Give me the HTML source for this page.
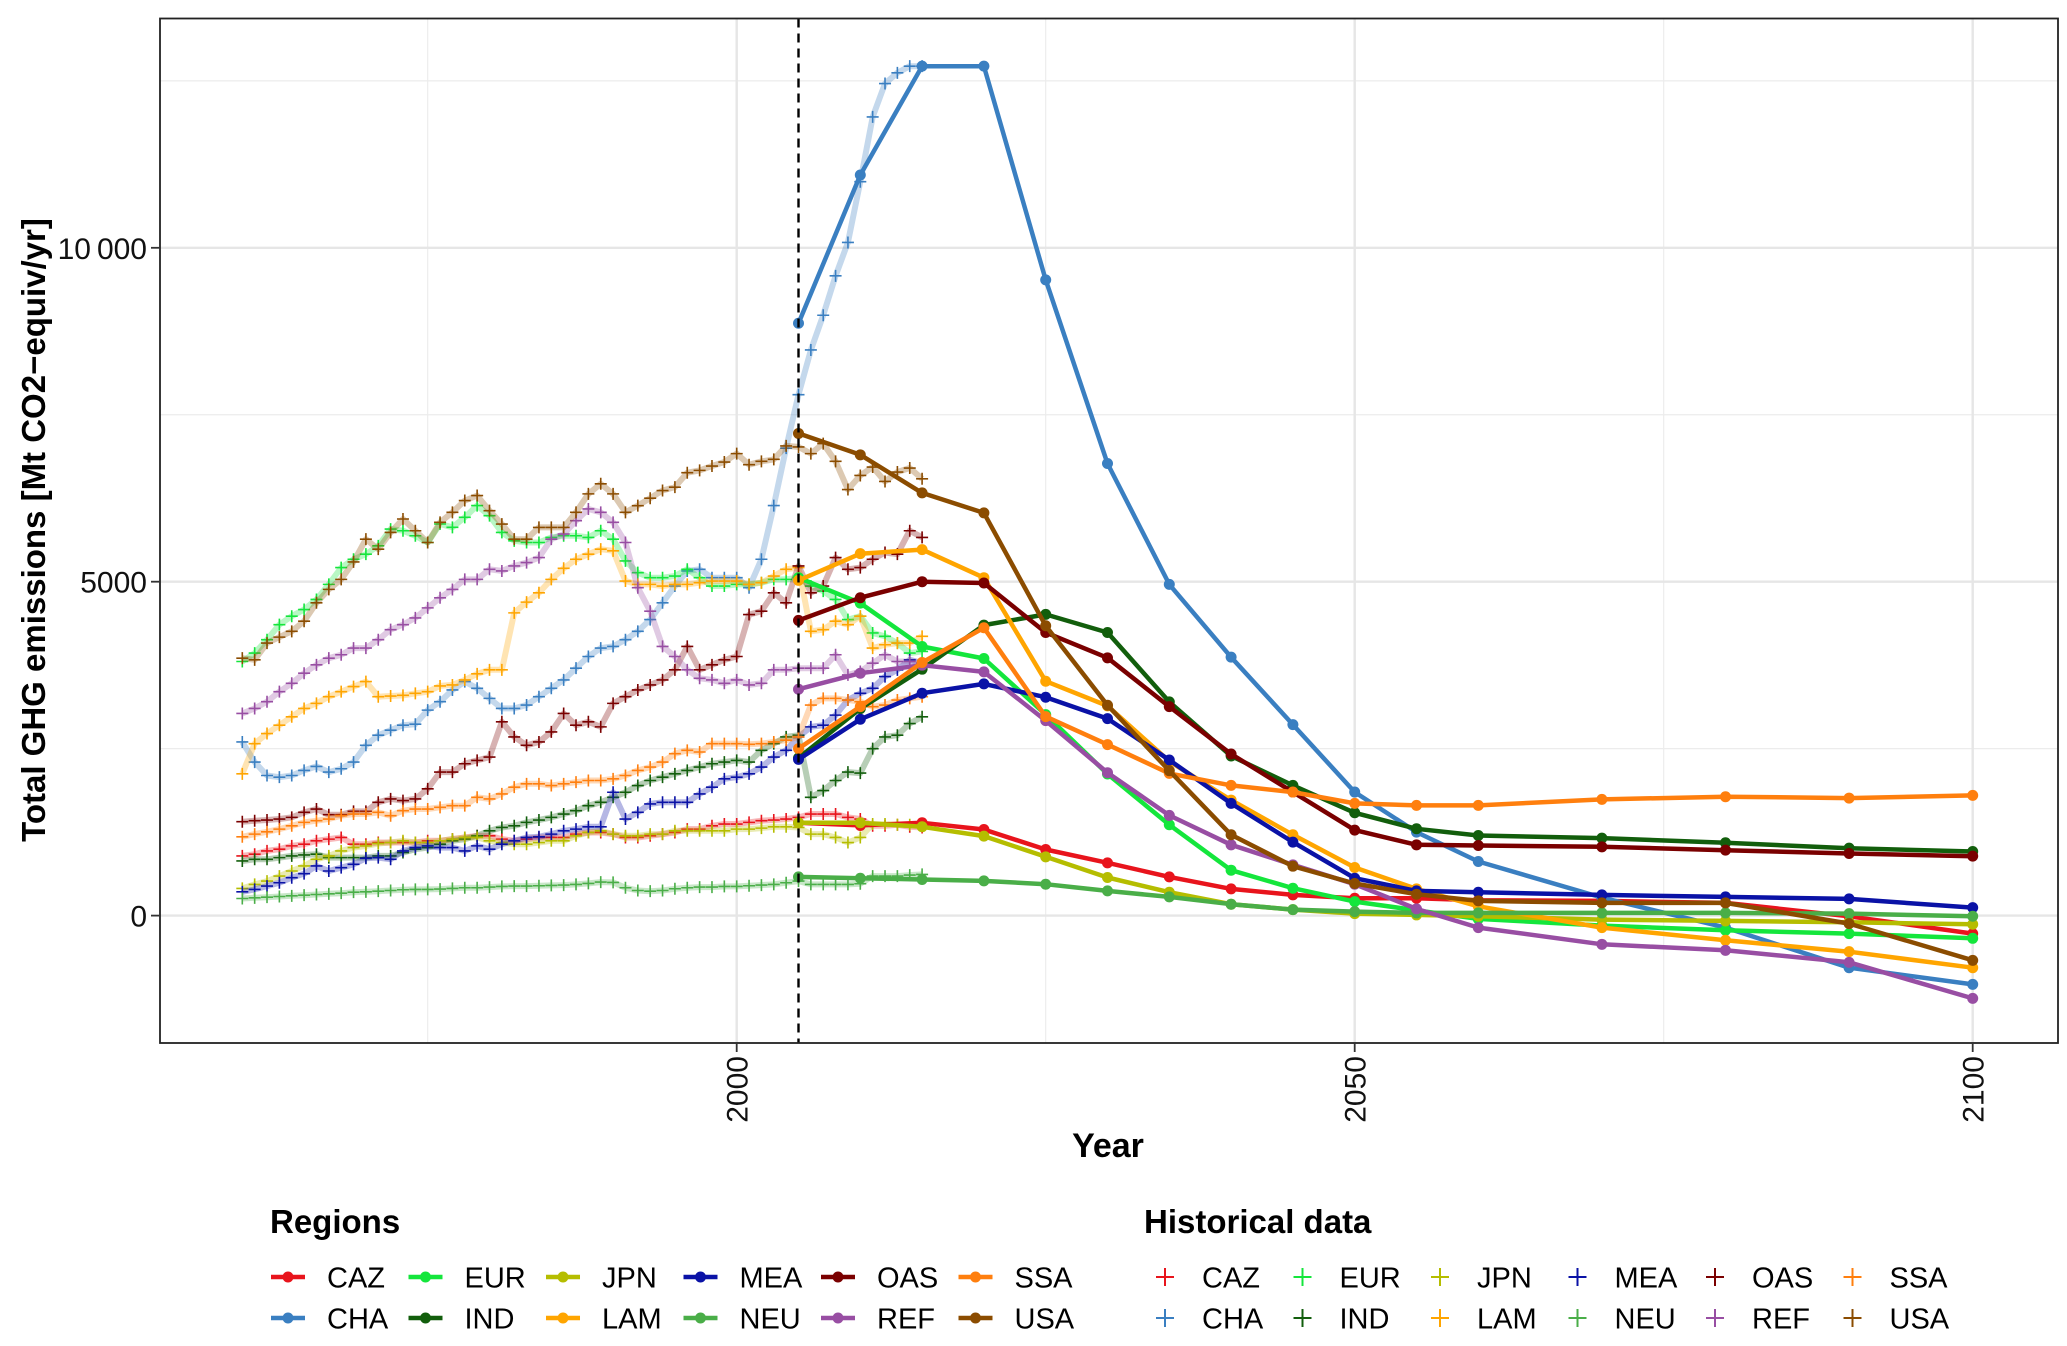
<!DOCTYPE html>
<html><head><meta charset="utf-8"><style>
html,body{margin:0;padding:0;background:#fff;}
svg{display:block;font-family:"Liberation Sans",Arial,sans-serif;}
</style></head><body>
<svg id="chart" width="2067" height="1346" viewBox="0 0 2067 1346" xmlns="http://www.w3.org/2000/svg">
<rect x="0" y="0" width="2067" height="1346" fill="#fff"/>
<g id="grid"></g>
<g id="hist"></g>
<g id="model"></g>
<g id="axes"></g>
<g id="legend"></g>
</svg>
<script>
const regions = ["CAZ","CHA","EUR","IND","JPN","LAM","MEA","NEU","OAS","REF","SSA","USA"];
const colors = ["#e8141c","#3a7fc1","#14e63c","#125e0c","#b5bd00","#ffa500","#0a12a6","#4aae48","#7a0000","#984ea3","#ff7f0e","#8b4c00"];
const modelYears = [2005,2010,2015,2020,2025,2030,2035,2040,2045,2050,2055,2060,2070,2080,2090,2100];
const mCAZ = [1390,1350,1390,1290,990,790,580,400,310,260,260,230,220,190,-10,-270];
const mCHA = [8870,11090,12720,12720,9520,6770,4960,3870,2860,1850,1250,810,270,-180,-780,-1030];
const mEUR = [5060,4680,4030,3850,3010,2120,1360,680,410,210,80,-50,-150,-220,-270,-340];
const mIND = [2360,3100,3690,4350,4510,4240,3200,2390,1950,1540,1300,1200,1160,1090,1010,960];
const mJPN = [1390,1390,1330,1190,880,570,350,170,90,30,10,-10,-60,-80,-100,-130];
const mLAM = [5020,5420,5480,5060,3510,3140,2310,1730,1210,720,400,140,-180,-370,-540,-780];
const mMEA = [2340,2940,3330,3470,3270,2950,2330,1680,1100,560,370,350,310,280,250,120];
const mNEU = [580,560,540,520,470,370,280,170,90,60,40,40,40,40,30,-10];
const mOAS = [4420,4760,5000,4980,4240,3860,3130,2420,1850,1280,1060,1050,1030,980,930,890];
const mREF = [3390,3630,3750,3650,2920,2140,1500,1060,760,470,100,-180,-430,-520,-700,-1240];
const mSSA = [2500,3130,3790,4310,2980,2560,2130,1950,1850,1680,1650,1650,1740,1780,1760,1800];
const mUSA = [7220,6900,6330,6030,4340,3150,2170,1210,740,480,320,220,190,190,-120,-670];
const histStart = 1960;
const hCAZ = [894,919,969,994,1044,1069,1120,1145,1170,1069,1069,1094,1094,1094,1094,1120,1120,1145,1170,1195,1195,1145,1120,1145,1170,1170,1170,1220,1245,1245,1220,1170,1170,1195,1220,1245,1295,1295,1345,1371,1371,1396,1421,1431,1446,1471,1521,1521,1521,1471,1446,1345,1345,1360,1330,1320];
const hCHA = [2600,2299,2098,2073,2098,2174,2234,2149,2199,2299,2550,2701,2776,2851,2866,3077,3203,3379,3504,3404,3253,3102,3102,3153,3278,3404,3529,3705,3880,4006,4031,4131,4257,4433,4684,4935,5161,5186,5060,5060,5060,4910,5336,6140,7000,7800,8470,8990,9580,10080,10990,11960,12460,12620,12720,12720];
const hEUR = [3805,3931,4131,4357,4483,4583,4734,4960,5211,5336,5412,5537,5788,5763,5688,5587,5864,5814,5964,6140,5989,5738,5612,5587,5587,5663,5688,5688,5663,5763,5637,5311,5135,5060,5060,5085,5186,5060,4935,4935,4960,4960,4985,5035,5035,5060,4935,4859,4734,4433,4483,4232,4182,4081,3931,3956];
const hIND = [818,843,843,868,894,909,919,868,868,868,868,894,894,944,994,1019,1069,1120,1145,1195,1270,1320,1345,1396,1431,1471,1521,1571,1646,1697,1772,1847,1948,2023,2073,2123,2174,2224,2274,2299,2324,2299,2475,2575,2676,2701,1772,1872,2023,2149,2134,2500,2676,2701,2876,2977];
const hJPN = [407,467,517,592,668,743,843,894,969,1019,1044,1079,1094,1120,1094,1094,1120,1145,1170,1170,1120,1094,1069,1069,1094,1120,1120,1195,1245,1270,1220,1195,1195,1220,1220,1270,1270,1270,1270,1270,1295,1295,1310,1330,1330,1320,1220,1220,1170,1094,1170,1371,1371,1360,1360,1360];
const hLAM = [2123,2575,2726,2851,2977,3102,3178,3278,3353,3429,3504,3278,3288,3298,3328,3353,3439,3454,3529,3620,3680,3680,4533,4694,4834,5035,5201,5336,5412,5487,5462,5010,4960,4960,4935,4960,4960,4985,5010,5010,5010,4960,4985,5085,5186,5211,4257,4282,4408,4357,4483,4006,4056,4081,4081,4182];
const hMEA = [356,392,442,492,567,628,743,668,718,768,858,868,843,969,1019,1044,1019,1019,969,1044,994,1069,1120,1170,1180,1220,1270,1295,1330,1330,1847,1446,1546,1672,1697,1697,1697,1822,1923,2048,2073,2123,2224,2374,2475,2676,2826,2851,3002,3228,3328,3404,3579,3680,3830,3780];
const hNEU = [256,266,276,286,296,306,316,326,336,351,356,366,376,387,392,392,397,407,417,417,427,437,442,442,447,452,457,467,482,502,497,417,376,366,376,402,417,427,427,437,437,447,457,467,492,517,467,467,467,467,477,592,592,592,607,617];
const hOAS = [1406,1421,1431,1446,1471,1546,1596,1511,1511,1561,1561,1697,1747,1722,1747,1898,2149,2149,2274,2324,2374,2902,2676,2550,2600,2751,3027,2851,2902,2826,3178,3278,3379,3454,3529,3680,4031,3680,3755,3830,3880,4508,4558,4834,4684,5236,4834,4935,5361,5186,5211,5336,5437,5412,5763,5663];
const hREF = [3027,3102,3203,3353,3479,3630,3755,3855,3906,4006,4006,4131,4282,4357,4458,4608,4759,4884,5035,5035,5186,5161,5236,5286,5361,5637,5713,5914,6089,6039,5889,5587,4910,4558,4031,3880,3680,3554,3529,3479,3529,3454,3479,3680,3680,3705,3705,3705,3906,3604,3655,3780,3906,3805,3805,3780];
const hSSA = [1180,1220,1255,1295,1345,1396,1421,1446,1496,1521,1521,1546,1496,1571,1596,1596,1621,1646,1646,1772,1747,1822,1923,1973,1973,1948,1973,1998,2023,2023,2048,2098,2174,2224,2299,2425,2475,2450,2575,2575,2575,2565,2575,2600,2626,2676,3153,3253,3253,3228,3203,3128,3153,3228,3253,3278];
const hUSA = [3855,3830,4081,4170,4257,4408,4684,4885,5035,5296,5637,5487,5738,5939,5763,5587,5889,6039,6215,6290,6064,5863,5637,5637,5813,5813,5813,6039,6315,6466,6315,6039,6139,6250,6365,6416,6632,6667,6732,6792,6918,6752,6802,6832,7033,7018,6918,7068,6802,6380,6591,6717,6501,6642,6702,6541];
const xTicks = [2000,2050,2100];
const xMinor = [1975,2025,2075];
const yTicks = [0,5000,10000];
const yTickLabels = ["0","5000","10\u2009000"];
const yMinor = [2500,7500,12500];

const modelData = [mCAZ,mCHA,mEUR,mIND,mJPN,mLAM,mMEA,mNEU,mOAS,mREF,mSSA,mUSA];
const histData = [hCAZ,hCHA,hEUR,hIND,hJPN,hLAM,hMEA,hNEU,hOAS,hREF,hSSA,hUSA];

const NS = "http://www.w3.org/2000/svg";
const PL = 160, PR = 2058, PT = 18.5, PB = 1043;
function x(yr){ return 736.7 + (yr - 2000) * 12.36; }
function y(v){ return 915.6 - v * 0.06678; }
function mk(tag, attrs, parent){
  const e = document.createElementNS(NS, tag);
  for (const k in attrs) e.setAttribute(k, attrs[k]);
  parent.appendChild(e);
  return e;
}
const grid = document.getElementById('grid');
const hist = document.getElementById('hist');
const model = document.getElementById('model');
const axes = document.getElementById('axes');
const legend = document.getElementById('legend');

xMinor.forEach(t => {
  const l = mk('line', {x1:x(t), x2:x(t), y1:PT, y2:PB, stroke:'#ececec', 'stroke-width':1.2}, grid);
  
  
});
yMinor.forEach(t => {
  const l = mk('line', {x1:PL, x2:PR, y1:y(t), y2:y(t), stroke:'#ececec', 'stroke-width':1.2}, grid);
  
  
});
xTicks.forEach(t => {
  const l = mk('line', {x1:x(t), x2:x(t), y1:PT, y2:PB, stroke:'#e6e6e6', 'stroke-width':2.4}, grid);
  
  
});
yTicks.forEach(t => {
  const l = mk('line', {x1:PL, x2:PR, y1:y(t), y2:y(t), stroke:'#e6e6e6', 'stroke-width':2.4}, grid);
  
  
});

histData.forEach((arr, i) => {
  const pts = arr.map((v, k) => x(histStart + k).toFixed(1) + ',' + y(v).toFixed(1)).join(' ');
  const pl = mk('polyline', {points:pts, fill:'none', stroke:colors[i], 'stroke-opacity':0.3, 'stroke-width':6, 'stroke-linejoin':'round'}, hist);
  
  
  arr.forEach((v, k) => {
    const cx = x(histStart + k), cy = y(v);
    const p = mk('path', {d:`M${cx-6},${cy}H${cx+6}M${cx},${cy-6}V${cy+6}`, stroke:colors[i], 'stroke-width':1.6, fill:'none'}, hist);
    
    
  });
});

const dl = mk('line', {x1:x(2005), x2:x(2005), y1:PT, y2:PB, stroke:'#000', 'stroke-width':2.4, 'stroke-dasharray':'9,6'}, axes);



modelData.forEach((arr, i) => {
  const pts = arr.map((v, k) => x(modelYears[k]).toFixed(1) + ',' + y(v).toFixed(1)).join(' ');
  const pl = mk('polyline', {points:pts, fill:'none', stroke:colors[i], 'stroke-width':4.5, 'stroke-linejoin':'round'}, model);
  
  
  arr.forEach((v, k) => {
    const c = mk('circle', {cx:x(modelYears[k]), cy:y(v), r:5.5, fill:colors[i]}, model);
    
    
  });
});

const fr = mk('rect', {x:PL, y:PT, width:PR-PL, height:PB-PT, fill:'none', stroke:'#222', 'stroke-width':1.8}, axes);



yTicks.forEach((t, i) => {
  const tk = mk('line', {x1:PL-9, x2:PL, y1:y(t), y2:y(t), stroke:'#333', 'stroke-width':1.8}, axes);
  
  
  const tx = mk('text', {x:PL-13, y:y(t)+11, 'text-anchor':'end', 'font-size':30, fill:'#111'}, axes);
  tx.textContent = yTickLabels[i];
  
  
});
xTicks.forEach(t => {
  const tk = mk('line', {x1:x(t), x2:x(t), y1:PB, y2:PB+9, stroke:'#333', 'stroke-width':1.8}, axes);
  
  
  const tx = mk('text', {x:0, y:0, 'text-anchor':'end', 'font-size':30, fill:'#111', transform:`translate(${x(t)+11},${PB+13}) rotate(-90)`}, axes);
  tx.textContent = String(t);
  
  
});
const xt = mk('text', {x:1108, y:1157, 'text-anchor':'middle', 'font-size':34, 'font-weight':'bold', fill:'#000'}, axes);
xt.textContent = 'Year';


const yt = mk('text', {x:0, y:0, 'text-anchor':'middle', 'font-size':33, 'font-weight':'bold', fill:'#000', transform:'translate(45,530) rotate(-90)'}, axes);
yt.textContent = 'Total GHG emissions [Mt CO2\u2212equiv/yr]';



const order = [[0,2,4,6,8,10],[1,3,5,7,9,11]];
const rowsY = [1277, 1318];
const t1 = mk('text', {x:270, y:1233, 'font-size':33, 'font-weight':'bold', fill:'#000'}, legend);
t1.textContent = 'Regions';


const t2 = mk('text', {x:1144, y:1233, 'font-size':33, 'font-weight':'bold', fill:'#000'}, legend);
t2.textContent = 'Historical data';


order.forEach((row, r) => {
  row.forEach((ri, c) => {
    const ky = rowsY[r];
    const kx = 271 + c * 137.5;
    const ln = mk('line', {x1:kx, x2:kx+34, y1:ky, y2:ky, stroke:colors[ri], 'stroke-width':4.5}, legend);
    
    
    const dt = mk('circle', {cx:kx+17, cy:ky, r:5.5, fill:colors[ri]}, legend);
    
    
    const lb = mk('text', {x:kx+56, y:ky+10.5, 'font-size':29, fill:'#000'}, legend);
    lb.textContent = regions[ri];
    
    

    const hx = 1165 + c * 137.5;
    const cr = mk('path', {d:`M${hx-9},${ky}H${hx+9}M${hx},${ky-9}V${ky+9}`, stroke:colors[ri], 'stroke-width':2}, legend);
    
    
    const hl = mk('text', {x:hx+37, y:ky+10.5, 'font-size':29, fill:'#000'}, legend);
    hl.textContent = regions[ri];
    
    
  });
});
</script>
</body></html>
